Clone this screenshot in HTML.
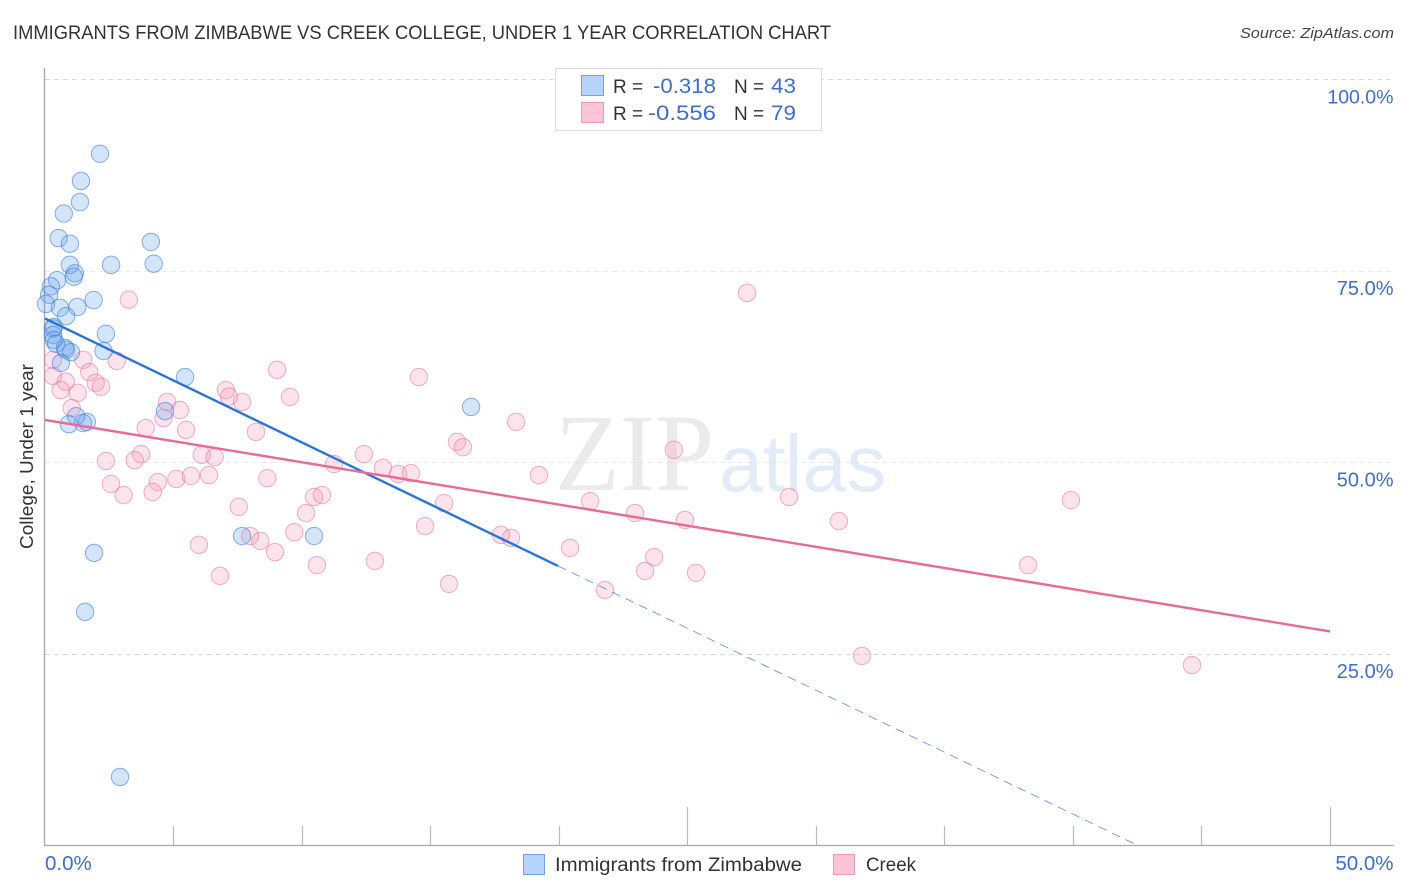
<!DOCTYPE html>
<html lang="en">
<head>
<meta charset="utf-8">
<title>Immigrants from Zimbabwe vs Creek College, Under 1 Year Correlation Chart</title>
<style>
html,body{margin:0;padding:0;background:#fff;width:1406px;height:892px;overflow:hidden}
svg{display:block;font-family:"Liberation Sans",sans-serif}
</style>
</head>
<body>
<svg id="chart" xmlns="http://www.w3.org/2000/svg" width="1406" height="892" viewBox="0 0 1406 892">
  <rect x="0" y="0" width="1406" height="892" fill="#fff"/>
  <text x="13" y="39" font-size="19" fill="#333" textLength="818" lengthAdjust="spacingAndGlyphs">IMMIGRANTS FROM ZIMBABWE VS CREEK COLLEGE, UNDER 1 YEAR CORRELATION CHART</text>
  <text x="1394" y="38" font-size="15" font-style="italic" fill="#444" text-anchor="end" textLength="154" lengthAdjust="spacingAndGlyphs">Source: ZipAtlas.com</text>

  <g id="watermark">
    <text x="555" y="490" font-family="'Liberation Serif',serif" font-size="110" fill="#ebebeb" textLength="159" lengthAdjust="spacingAndGlyphs">ZIP</text>
    <text x="719" y="491" font-size="80" fill="#e2ecf9" textLength="167" lengthAdjust="spacingAndGlyphs">atlas</text>
  </g>

  <g id="grid"></g>
  <g id="axes"></g>
  <g id="points-creek"></g>
  <g id="points-zimbabwe"></g>
  <g id="trends"></g>
  <g id="labels"></g>

  <text transform="translate(33,549) rotate(-90)" font-size="18.5" fill="#333" textLength="185" lengthAdjust="spacingAndGlyphs">College, Under 1 year</text>

  <g>
    <rect x="555.5" y="68.5" width="266" height="62" fill="#fff" stroke="#ddd" stroke-width="1"/>
    <rect x="581.5" y="75.5" width="22" height="20" fill="#b5d3fb" stroke="#6fa3e6"/>
    <rect x="581.5" y="102.5" width="22" height="20" fill="#fcc5d7" stroke="#ef9ab5"/>
    <text x="613" y="93" font-size="19" fill="#333">R =</text>
    <text x="716" y="93" font-size="21" fill="#3b6fc9" text-anchor="end" textLength="63" lengthAdjust="spacingAndGlyphs">-0.318</text>
    <text x="734" y="93" font-size="19" fill="#333">N =</text>
    <text x="796" y="93" font-size="21" fill="#3b6fc9" text-anchor="end" textLength="25" lengthAdjust="spacingAndGlyphs">43</text>
    <text x="613" y="120" font-size="19" fill="#333">R =</text>
    <text x="716" y="120" font-size="21" fill="#3b6fc9" text-anchor="end" textLength="68" lengthAdjust="spacingAndGlyphs">-0.556</text>
    <text x="734" y="120" font-size="19" fill="#333">N =</text>
    <text x="796" y="120" font-size="21" fill="#3b6fc9" text-anchor="end" textLength="25" lengthAdjust="spacingAndGlyphs">79</text>
  </g>

  <g>
    <rect x="523.5" y="854.5" width="21" height="20" fill="#b5d3fb" stroke="#6fa3e6"/>
    <text x="555" y="871" font-size="19" fill="#333" textLength="247" lengthAdjust="spacingAndGlyphs">Immigrants from Zimbabwe</text>
    <rect x="833.5" y="854.5" width="21" height="20" fill="#fcc5d7" stroke="#ef9ab5"/>
    <text x="866" y="871" font-size="19" fill="#333" textLength="50" lengthAdjust="spacingAndGlyphs">Creek</text>
  </g>
</svg>
<script>
const yTickValues = [100, 75, 50, 25];
const yTickLabels = ["100.0%", "75.0%", "50.0%", "25.0%"];
const xEndValues = [0, 50];
const xEndLabels = ["0.0%", "50.0%"];
const xTickValues = [5, 10, 15, 20, 25, 30, 35, 40, 45, 50];
const xMajorTicks = [25, 50];

const zimbabweX = [2.14,1.40,1.36,0.73,0.53,0.97,4.12,4.23,2.57,0.97,1.16,1.12,0.47,0.23,0.16,0.04,1.89,0.58,1.26,0.82,2.37,2.28,0.35,0.31,0.31,0.35,0.43,0.78,0.82,1.01,0.62,5.45,4.67,16.58,0.93,1.48,1.63,1.21,1.91,1.56,2.92,7.67,10.47];
const zimbabweY = [90.3,86.75,84.0,82.5,79.3,78.56,78.8,75.95,75.8,75.8,74.7,74.25,73.8,73.0,71.9,70.7,71.2,70.2,70.3,69.1,66.8,64.55,67.7,67.5,66.65,66.0,65.5,64.95,64.7,64.4,63.0,61.15,56.7,57.25,55.0,55.15,55.3,56.05,38.2,30.5,8.95,40.4,40.4];

const creekX = [3.26,1.49,2.79,0.31,1.72,0.81,1.97,2.18,0.61,1.27,1.04,0.31,9.03,7.04,7.16,7.67,9.53,4.75,5.25,4.61,3.92,5.49,8.21,3.74,3.49,2.37,6.10,6.60,2.57,3.06,4.39,4.19,5.11,5.68,6.38,8.65,7.54,5.99,7.98,8.38,8.95,6.81,9.70,10.16,10.47,10.78,11.25,12.41,13.15,13.74,14.24,15.53,14.79,10.58,12.84,15.72,14.55,18.33,16.03,16.26,19.22,17.74,18.13,20.43,21.21,22.96,21.79,23.35,23.70,24.47,24.90,25.33,28.95,30.89,27.32,31.79,38.25,39.92,44.63];
const creekY = [71.25,63.4,63.25,61.3,61.8,60.55,60.4,59.9,59.45,59.1,57.1,63.4,62.1,59.45,58.6,57.9,58.55,57.9,56.85,55.8,54.5,54.25,54.0,51.1,50.3,50.2,51.0,50.7,47.2,45.75,47.45,46.15,47.85,48.25,48.35,47.95,44.2,39.25,40.4,39.75,38.3,35.2,40.9,43.4,45.5,45.75,49.8,51.1,49.3,48.5,48.6,44.7,41.7,36.6,37.15,34.15,61.15,55.3,52.7,52.0,48.35,40.55,40.15,38.85,44.95,43.4,33.35,35.85,37.65,51.65,42.5,35.6,45.5,42.35,72.15,24.75,36.6,45.1,23.55];

const zimbabweTrendX = [0, 19.96];
const zimbabweTrendY = [68.8, 36.5];
const zimbabweDashX = [19.96, 42.53];
const zimbabweDashY = [36.5, 0];
const creekTrendX = [0, 50];
const creekTrendY = [55.55, 27.95];

const SVG_NS = "http://www.w3.org/2000/svg";
function xScale(v) { return 45 + v * 25.7; }
function yScale(v) { return 845.5 - v * 7.66; }
function make(tag, parentId, attrs, text) {
  const el = document.createElementNS(SVG_NS, tag);
  for (const k in attrs) el.setAttribute(k, attrs[k]);
  if (text !== undefined) el.textContent = text;
  document.getElementById(parentId).appendChild(el);
  return el;
}

yTickValues.forEach(function (v, i) {
  const y = Math.floor(yScale(v)) + 0.5;
  const el = make("line", "grid", {x1: 45, x2: 1394, y1: y, y2: y, stroke: "#d9d9d9", "stroke-width": 1, "stroke-dasharray": "5 4", opacity: (v === 100 || v === 25) ? 0.95 : 0.55});
  
  
  const lab = make("text", "labels", {x: 1393.5, y: yScale(v) + 24, "font-size": v === 100 ? 19.5 : 20, fill: "#3b6fc9", "text-anchor": "end"}, yTickLabels[i]);
  
  
});

const yAxisLine = make("line", "axes", {x1: 44.5, x2: 44.5, y1: 68, y2: 846, stroke: "#aaa", "stroke-width": 1.4});


const xAxisLine = make("line", "axes", {x1: 44, x2: 1394, y1: 845.5, y2: 845.5, stroke: "#aaa", "stroke-width": 1.2});



xTickValues.forEach(function (v) {
  const x = Math.floor(xScale(v)) + 0.5;
  const top = xMajorTicks.indexOf(v) >= 0 ? 807 : 826;
  const el = make("line", "axes", {x1: x, x2: x, y1: top, y2: 845, stroke: "#bbb", "stroke-width": 1.2});
  
  
});

xEndValues.forEach(function (v, i) {
  const lab = make("text", "labels", {x: i === 0 ? xScale(v) : 1393.5, y: 870, "font-size": 20.5, fill: "#3b6fc9", "text-anchor": i === 0 ? "start" : "end"}, xEndLabels[i]);
  
  
});

creekX.forEach(function (v, i) {
  const c = make("circle", "points-creek", {cx: xScale(v), cy: yScale(creekY[i]), r: 8.7, fill: "rgba(247,150,180,0.27)", stroke: "rgba(232,110,150,0.55)", "stroke-width": 1});
  
  
});

zimbabweX.forEach(function (v, i) {
  const c = make("circle", "points-zimbabwe", {cx: xScale(v), cy: yScale(zimbabweY[i]), r: 8.7, fill: "rgba(105,160,235,0.28)", stroke: "rgba(50,120,220,0.58)", "stroke-width": 1});
  
  
});

const dashLine = make("line", "trends", {x1: xScale(zimbabweDashX[0]), y1: yScale(zimbabweDashY[0]), x2: xScale(zimbabweDashX[1]), y2: yScale(zimbabweDashY[1]), stroke: "#3b78dc", "stroke-width": 0.8, "stroke-dasharray": "9 6", opacity: 0.85});


const blueLine = make("line", "trends", {x1: xScale(zimbabweTrendX[0]), y1: yScale(zimbabweTrendY[0]), x2: xScale(zimbabweTrendX[1]), y2: yScale(zimbabweTrendY[1]), stroke: "#2a74d8", "stroke-width": 2.4});


const pinkLine = make("line", "trends", {x1: xScale(creekTrendX[0]), y1: yScale(creekTrendY[0]), x2: xScale(creekTrendX[1]), y2: yScale(creekTrendY[1]), stroke: "#e96a96", "stroke-width": 2.4});


</script>
</body>
</html>
